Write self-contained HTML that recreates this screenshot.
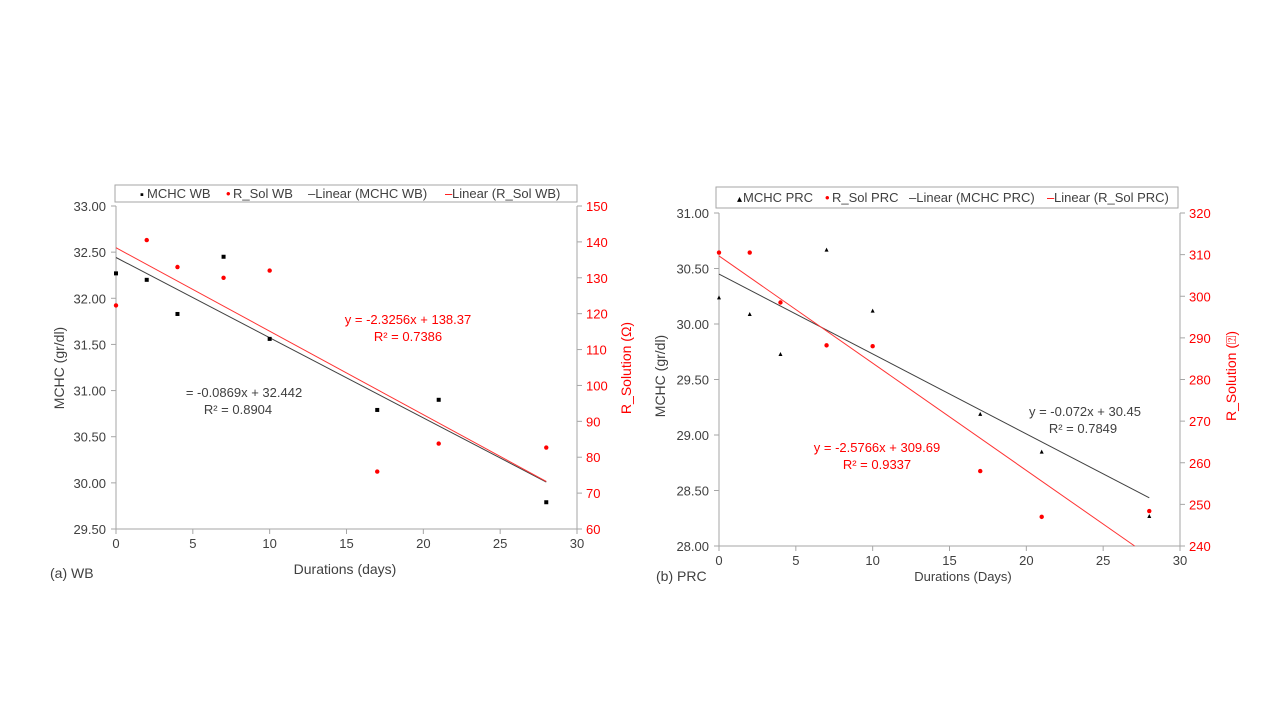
<!DOCTYPE html>
<html><head><meta charset="utf-8"><style>
html,body{margin:0;padding:0;background:#fff;}
svg{display:block;font-family:"Liberation Sans","DejaVu Sans",sans-serif;}
</style></head><body>
<svg id="s" width="1280" height="720" xmlns="http://www.w3.org/2000/svg"></svg>
<script>
const s=document.getElementById('s');
let h='';
function t(x,y,str,o){o=o||{};h+=`<text x="${x}" y="${y}" font-size="${o.fs||13}" fill="${o.c||'#404040'}" text-anchor="${o.a||'middle'}" ${o.tr?`transform="${o.tr}"`:''}>${str}</text>`;}
function ln(x1,y1,x2,y2,c,w){h+=`<line x1="${x1}" y1="${y1}" x2="${x2}" y2="${y2}" stroke="${c}" stroke-width="${w||1}"/>`;}
function chart(cfg){
 const {x0,x1,y0,y1,lmin,lmax,lstep,rmin,rmax,rstep}=cfg;
 const X=v=>x0+(x1-x0)*v/30, YL=v=>y1-(y1-y0)*(v-lmin)/(lmax-lmin), YR=v=>y1-(y1-y0)*(v-rmin)/(rmax-rmin);
 // legend
 const L=cfg.leg;
 h+=`<rect x="${L[0]}" y="${L[1]}" width="${L[2]-L[0]}" height="${L[3]-L[1]}" fill="#fff" stroke="#a6a6a6"/>`;
 // axes
 ln(x0,y0,x0,y1,'#a6a6a6');ln(x1,y0,x1,y1,'#a6a6a6');ln(x0,y1,x1,y1,'#a6a6a6');
 for(let v=0;v<=30;v+=5){ln(X(v),y1,X(v),y1+5,'#a6a6a6');t(X(v),y1+19,v,{fs:13});}
 for(let v=lmin;v<=lmax+1e-9;v+=lstep){ln(x0-5,YL(v),x0,YL(v),'#a6a6a6');t(x0-10,YL(v)+5,v.toFixed(2),{fs:13,a:'end'});}
 for(let v=rmin;v<=rmax;v+=rstep){ln(x1,YR(v),x1+5,YR(v),'#a6a6a6');t(x1+9,YR(v)+5,v,{fs:13,a:'start',c:'#ff0000'});}
 // trend lines
 ln(X(0),YL(cfg.bt[1]),X(28),YL(cfg.bt[1]+cfg.bt[0]*28),'#404040',1);
 const rend=Math.min(28,(rmin-cfg.rt[1])/cfg.rt[0]);
 ln(X(0),YR(cfg.rt[1]),X(rend),YR(cfg.rt[1]+cfg.rt[0]*rend),'#ff3333',1);
 // points
 cfg.bp.forEach(p=>{const x=X(p[0]),y=YL(p[1]);
  if(cfg.tri)h+=`<polygon points="${x-2},${y+2} ${x+2},${y+2} ${x},${y-2}" fill="#000"/>`;
  else h+=`<rect x="${x-2}" y="${y-2}" width="4" height="4" fill="#000"/>`;});
 cfg.rp.forEach(p=>{h+=`<circle cx="${X(p[0])}" cy="${YR(p[1])}" r="2.2" fill="#ff0000"/>`;});
 cfg.txt.forEach(a=>t(a[0],a[1],a[2],a[3]));
}
chart({x0:116,x1:577,y0:206,y1:529,lmin:29.5,lmax:33,lstep:0.5,rmin:60,rmax:150,rstep:10,
 leg:[115,185,577,202],bt:[-0.0869,32.442],rt:[-2.3256,138.37],
 bp:[[0,32.27],[2,32.2],[4,31.83],[7,32.45],[10,31.56],[17,30.79],[21,30.9],[28,29.79]],
 rp:[[0,122.3],[2,140.5],[4,133],[7,130],[10,132],[17,76],[21,83.8],[28,82.7]],
 txt:[[244,397,'= -0.0869x + 32.442',{}],[238,414,'R² = 0.8904',{}],
  [408,324,'y = -2.3256x + 138.37',{c:'#ff0000'}],[408,341,'R² = 0.7386',{c:'#ff0000'}],
  [345,574,'Durations (days)',{fs:14}],[50,578,'(a) WB',{fs:14,a:'start'}],
  [0,0,'MCHC (gr/dl)',{fs:14,tr:'translate(64,368) rotate(-90)'}],
  [0,0,'R_Solution (Ω)',{fs:14,c:'#ff0000',tr:'translate(631,368) rotate(-90)'}],
  [140,198,'▪',{a:'start',c:'#000',fs:11}],[147,198,'MCHC WB',{a:'start'}],
  [226,198,'•',{a:'start',c:'#ff0000'}],[233,198,'R_Sol WB',{a:'start'}],
  [308,198,'–Linear (MCHC WB)',{a:'start'}],
  [445,198,'–',{a:'start',c:'#ff0000'}],[452,198,'Linear (R_Sol WB)',{a:'start'}]]});
chart({x0:719,x1:1180,y0:213,y1:546,lmin:28,lmax:31,lstep:0.5,rmin:240,rmax:320,rstep:10,
 leg:[716,187,1178,208],bt:[-0.072,30.45],rt:[-2.5766,309.69],tri:true,
 bp:[[0,30.24],[2,30.09],[4,29.73],[7,30.67],[10,30.12],[17,29.19],[21,28.85],[28,28.27]],
 rp:[[0,310.5],[2,310.5],[4,298.5],[7,288.2],[10,288],[17,258],[21,247],[28,248.4]],
 txt:[[1085,416,'y = -0.072x + 30.45',{}],[1083,433,'R² = 0.7849',{}],
  [877,452,'y = -2.5766x + 309.69',{c:'#ff0000'}],[877,469,'R² = 0.9337',{c:'#ff0000'}],
  [963,581,'Durations (Days)',{fs:13}],[656,581,'(b) PRC',{fs:14,a:'start'}],
  [0,0,'MCHC (gr/dl)',{fs:14,tr:'translate(665,376) rotate(-90)'}],
  [0,0,'R_Solution (⍰)',{fs:14,c:'#ff0000',tr:'translate(1236,376) rotate(-90)'}],
  [737,202,'▴',{a:'start',c:'#000',fs:10}],[743,202,'MCHC PRC',{a:'start'}],
  [825,202,'•',{a:'start',c:'#ff0000'}],[832,202,'R_Sol PRC',{a:'start'}],
  [909,202,'–Linear (MCHC PRC)',{a:'start'}],
  [1047,202,'–',{a:'start',c:'#ff0000'}],[1054,202,'Linear (R_Sol PRC)',{a:'start'}]]});
s.innerHTML=h;
</script>
</body></html>
